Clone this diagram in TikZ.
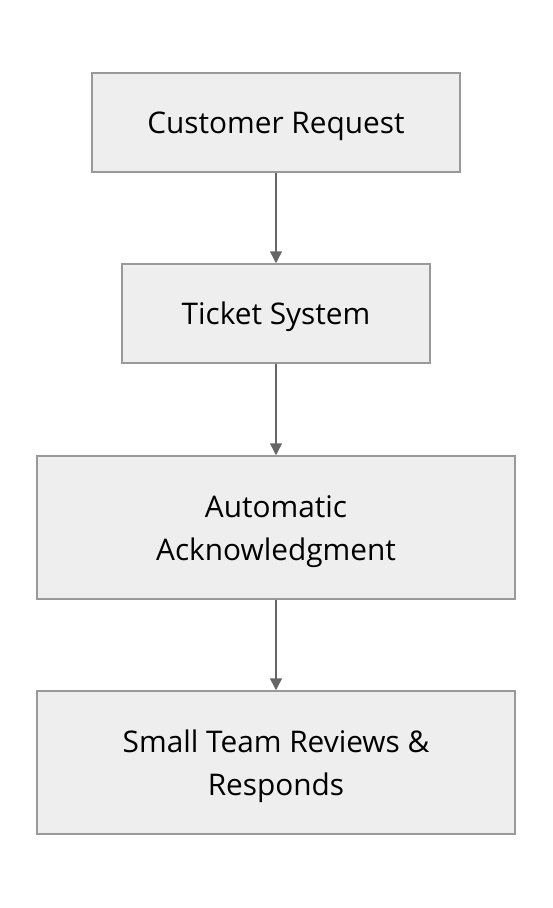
\documentclass[tikz,border=0pt]{standalone}
\usepackage{fontspec}
\setmainfont{Open Sans}
\usetikzlibrary{arrows.meta}
\definecolor{boxfill}{HTML}{EEEEEE}
\definecolor{boxline}{HTML}{999999}
\definecolor{arrowcol}{HTML}{666666}
\newcommand{\boxlift}{\rule{0pt}{30pt}}
\begin{document}
\begin{tikzpicture}[x=1pt,y=-1pt,
  flowbox/.style={draw=boxline, line width=1.5pt, fill=boxfill, inner sep=0pt, align=center,
    font=\fontsize{29.8}{43}\selectfont, text=black},
  flowarrow/.style={draw=arrowcol, line width=1.5pt, -{Triangle[length=12pt,width=12pt]}}]
\useasboundingbox (0,0) rectangle (552,908);
\node[flowbox, minimum width=368pt, minimum height=99pt] (a) at (276,122.5) {\boxlift Customer Request};
\node[flowbox, minimum width=308pt, minimum height=99pt] (b) at (276,313.5) {\boxlift Ticket System};
\node[flowbox, minimum width=478pt, minimum height=143pt] (c) at (276,527.5) {\boxlift Automatic\\Acknowledgment};
\node[flowbox, minimum width=478pt, minimum height=143pt] (d) at (276,762.5) {\boxlift Small Team Reviews \&\\Responds};
\draw[flowarrow] (a) -- (b);
\draw[flowarrow] (b) -- (c);
\draw[flowarrow] (c) -- (d);
\end{tikzpicture}
\end{document}
